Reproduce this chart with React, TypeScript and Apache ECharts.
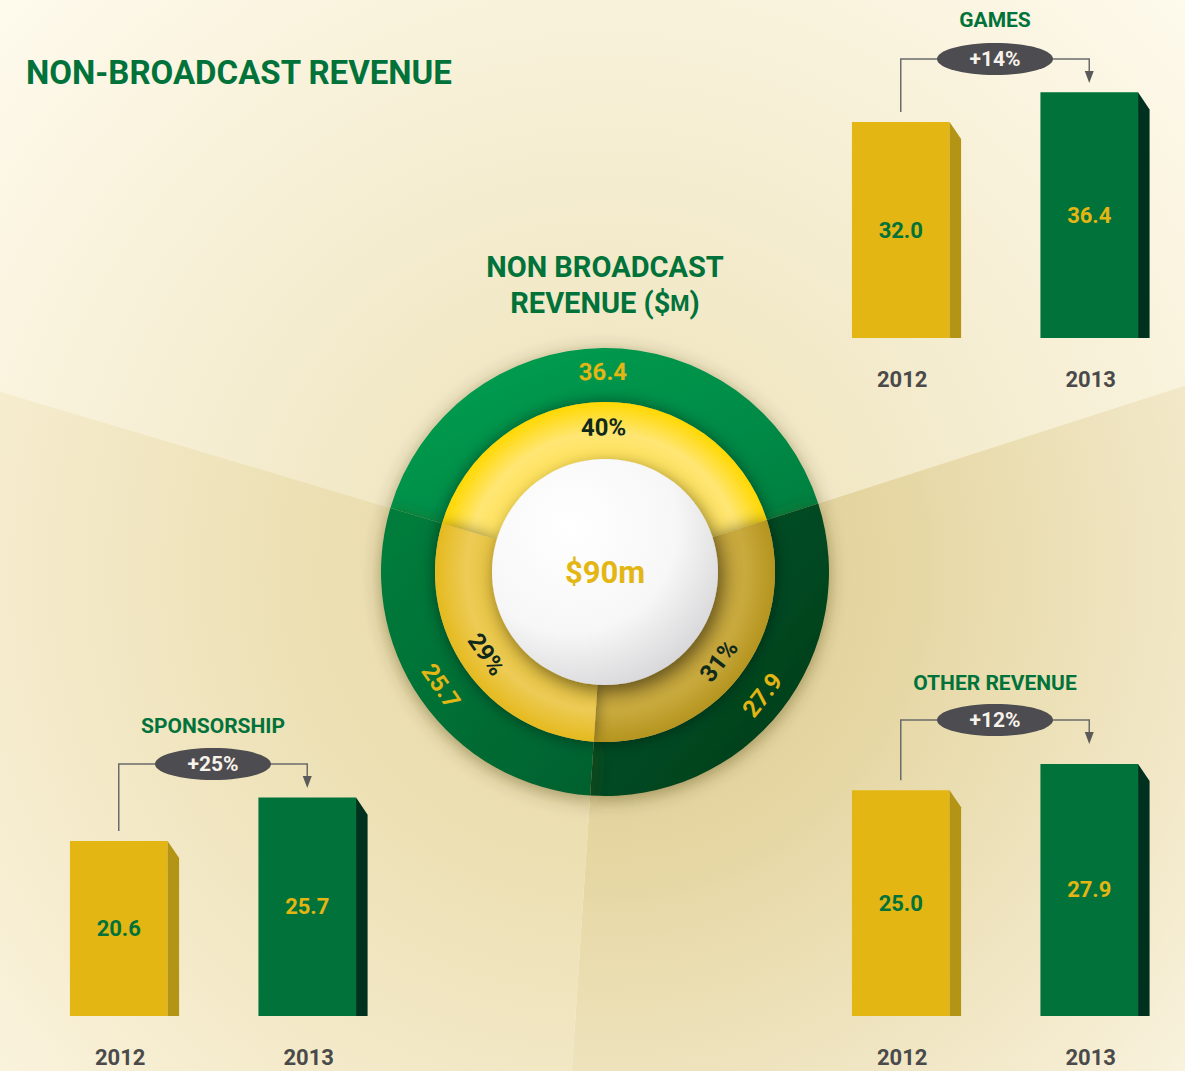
import React, { useEffect, useRef } from 'react';
import * as echarts from 'echarts';

// ---------------- DATA ----------------
const years = ['2012', '2013'];
const gamesValues = [32.0, 36.4];
const sponsorshipValues = [20.6, 25.7];
const otherValues = [25.0, 27.9];
const panelTitles = ['GAMES', 'SPONSORSHIP', 'OTHER REVENUE'];
const segmentNames = ['Games', 'Other revenue', 'Sponsorship'];
const segmentValues = [36.4, 27.9, 25.7];

// ---------------- STYLE ----------------
const FONT = 'Roboto, "Open Sans", sans-serif';
const GREEN = '#00723A';
const YELLOW = '#E3B614';
const CENTER = [605, 572];
const START_ANGLE = 163.4;

const BAR_COLORS = [
  { front: '#E3B614', side: '#B39415', label: '#00723A' },
  { front: '#00723A', side: '#00301E', label: '#E3B614' },
];

const panels = [
  { values: gamesValues, title: panelTitles[0], grid: { left: 808, width: 377, top: 68, height: 270 }, max: 40, titleY: 20, badgeY: 59 },
  { values: sponsorshipValues, title: panelTitles[1], grid: { left: 26, width: 377, top: 761, height: 255 }, max: 30, titleY: 726, badgeY: 764 },
  { values: otherValues, title: panelTitles[2], grid: { left: 808, width: 377, top: 745, height: 271 }, max: 30, titleY: 683, badgeY: 720 },
];

const bgGrad = (c0: string, c1: string, c2: string) => ({
  type: 'radial', x: CENTER[0], y: CENTER[1], r: 820, global: true,
  colorStops: [{ offset: 0, color: c0 }, { offset: 0.35, color: c1 }, { offset: 1, color: c2 }],
});
const bgColors = [
  bgGrad('#EDE2BA', '#F2E9C8', '#FEFAEC'),
  bgGrad('#DFCE94', '#E5D6A2', '#FBF5E3'),
  bgGrad('#E8DAAA', '#ECDFB2', '#FBF4DF'),
];
const lin = (a: string, b: string) => ({
  type: 'linear', x: 0, y: 0, x2: 1, y2: 1,
  colorStops: [{ offset: 0, color: a }, { offset: 1, color: b }],
});
const outerColors = [lin('#00A152', '#007E3F'), lin('#00592A', '#003A19'), lin('#007E3C', '#00602E')];
const innerGrad = (a: string, b: string, c: string) => ({
  type: 'radial', x: CENTER[0], y: CENTER[1], r: 170, global: true,
  colorStops: [{ offset: 0, color: a }, { offset: 0.66, color: a }, { offset: 0.82, color: b }, { offset: 1, color: c }],
});
const innerColors = [
  innerGrad('#FFE25A', '#FFE674', '#FFD800'),
  innerGrad('#C2A23A', '#C9AA3E', '#B5951F'),
  innerGrad('#E8C440', '#EDCB55', '#E5BA1F'),
];

const renderBar = (params: any, api: any) => {
  const i = params.dataIndex;
  const v = api.value(1);
  const top = api.coord([api.value(0), v]);
  const base = api.coord([api.value(0), 0]);
  const band = api.size([1, 0])[0];
  const w = band * 0.518;
  const sw = w * 0.118;
  const sl = w * 0.175;
  const x0 = top[0] - w / 2 - 1.5;
  const c = BAR_COLORS[i];
  return {
    type: 'group',
    children: [
      { type: 'rect', shape: { x: x0, y: top[1], width: w, height: base[1] - top[1] }, style: { fill: c.front } },
      {
        type: 'polygon',
        shape: { points: [[x0 + w, top[1]], [x0 + w + sw, top[1] + sl], [x0 + w + sw, base[1]], [x0 + w, base[1]]] },
        style: { fill: c.side },
      },
      {
        type: 'text', x: x0 + w / 2, y: (top[1] + base[1]) / 2,
        style: { text: v.toFixed(1), fill: c.label, fontSize: 22, fontWeight: 'bold', fontFamily: FONT, align: 'center', verticalAlign: 'middle' },
      },
    ],
  };
};

export default function App() {
  const ref = useRef<HTMLDivElement>(null);
  useEffect(() => {
    const chart = echarts.init(ref.current!, null, { renderer: 'svg' });
    const total = segmentValues.reduce((a, b) => a + b, 0);
    const pieData = (colors: any[]) =>
      segmentValues.map((v, k) => ({ name: segmentNames[k], value: v, itemStyle: { color: colors[k] } }));

    const option: any = {
      animation: false,
      backgroundColor: '#FBF4DE',
      grid: panels.map((p) => ({ ...p.grid, containLabel: false })),
      xAxis: panels.map((p, gi) => ({
        type: 'category', gridIndex: gi, data: years,
        axisLine: { lineStyle: { color: '#7B7B7B', width: 1.5 } },
        axisTick: { show: false },
        axisLabel: { color: '#4A4A4A', fontWeight: 'bold', fontSize: 22, fontFamily: FONT, margin: 30 },
      })),
      yAxis: panels.map((p, gi) => ({
        type: 'value', gridIndex: gi, min: 0, max: p.max, show: false, splitLine: { show: false },
      })),
      series: [
        {
          type: 'pie', z: 0, silent: true, center: CENTER, radius: [0, 1200], startAngle: START_ANGLE,
          label: { show: false }, labelLine: { show: false }, emphasis: { disabled: true },
          data: pieData(bgColors),
        },
        {
          type: 'pie', z: 2, silent: true, center: CENTER, radius: [170, 224], startAngle: START_ANGLE,
          avoidLabelOverlap: false, labelLine: { show: false }, emphasis: { disabled: true },
          itemStyle: { shadowBlur: 18, shadowOffsetY: 4, shadowColor: 'rgba(70,55,0,0.45)' },
          label: {
            show: true, position: 'inside', rotate: 'tangential',
            formatter: (p: any) => Number(p.value).toFixed(1),
            color: YELLOW, fontSize: 24, fontWeight: 'bold', fontFamily: FONT,
          },
          data: pieData(outerColors),
        },
        {
          type: 'pie', z: 3, silent: true, center: CENTER, radius: [113, 170], startAngle: START_ANGLE,
          avoidLabelOverlap: false, labelLine: { show: false }, emphasis: { disabled: true },
          itemStyle: { shadowBlur: 16, shadowColor: 'rgba(0,0,0,0.45)' },
          label: {
            show: true, position: 'inside', rotate: 'tangential',
            formatter: (p: any) => Math.round(p.percent) + '%',
            color: '#10291A', fontSize: 24, fontWeight: 'bold', fontFamily: FONT,
          },
          data: pieData(innerColors),
        },
        {
          type: 'pie', z: 4, silent: true, center: CENTER, radius: [0, 113],
          labelLine: { show: false }, emphasis: { disabled: true },
          itemStyle: {
            color: {
              type: 'radial', x: 0.35, y: 0.3, r: 0.85,
              colorStops: [{ offset: 0, color: '#FFFFFF' }, { offset: 0.55, color: '#F7F7F7' }, { offset: 1, color: '#CDCDD0' }],
            },
            shadowBlur: 18, shadowOffsetX: 4, shadowOffsetY: 6, shadowColor: 'rgba(0,0,0,0.5)',
          },
          label: {
            show: true, position: 'center', formatter: '$' + Math.round(total) + 'm',
            color: YELLOW, fontSize: 31, fontWeight: 'bold', fontFamily: FONT,
          },
          data: [{ name: 'Total', value: total }],
        },
        ...panels.map((p, gi) => ({
          type: 'custom', xAxisIndex: gi, yAxisIndex: gi, z: 5, silent: true,
          renderItem: renderBar, encode: { x: 0, y: 1 },
          data: p.values.map((v, k) => [k, v]),
        })),
      ],
    };
    chart.setOption(option);

    const txt = (x: number, y: number, text: string, fill: string, size: number, align = 'center') => ({
      type: 'text', x, y, z: 100,
      style: { text, fill, fontSize: size, fontWeight: 'bold', fontFamily: FONT, align, verticalAlign: 'middle' },
    });
    const graphics: any[] = [
      txt(26, 72, 'NON-BROADCAST REVENUE', GREEN, 33, 'left'),
      txt(CENTER[0], 267, 'NON BROADCAST', GREEN, 29),
      {
        type: 'text', x: CENTER[0], y: 303, z: 100,
        style: {
          text: '{a|REVENUE ($}{b|M}{a|)}', align: 'center', verticalAlign: 'middle',
          rich: {
            a: { fill: GREEN, fontSize: 29, fontWeight: 'bold', fontFamily: FONT },
            b: { fill: GREEN, fontSize: 22, fontWeight: 'bold', fontFamily: FONT },
          },
        },
      },
    ];
    panels.forEach((p, gi) => {
      const pL = chart.convertToPixel({ gridIndex: gi } as any, [years[0], p.values[0]]) as number[];
      const pR = chart.convertToPixel({ gridIndex: gi } as any, [years[1], p.values[1]]) as number[];
      const xL = pL[0] - 1.5;
      const xR = pR[0] - 1.5;
      const bx = (xL + xR) / 2;
      const by = p.badgeY;
      const pct = Math.round((p.values[1] / p.values[0] - 1) * 100);
      const lineStyle = { stroke: '#6B6B6B', lineWidth: 1.5 };
      graphics.push(
        txt(bx, p.titleY, p.title, GREEN, 21),
        { type: 'polyline', z: 99, shape: { points: [[xL, pL[1] - 10], [xL, by], [bx - 50, by]] }, style: lineStyle },
        { type: 'polyline', z: 99, shape: { points: [[bx + 50, by], [xR, by], [xR, by + 15]] }, style: lineStyle },
        { type: 'polygon', z: 99, shape: { points: [[xR - 4.5, by + 12], [xR + 4.5, by + 12], [xR, by + 24]] }, style: { fill: '#5A5A5A' } },
        { type: 'ellipse', z: 100, shape: { cx: bx, cy: by, rx: 58, ry: 16 }, style: { fill: '#4D4C50' } },
        txt(bx, by, `+${pct}%`, '#F7F3EA', 21),
      );
    });
    chart.setOption({ graphic: graphics });

    return () => chart.dispose();
  }, []);
  return <div ref={ref} style={{ position: 'fixed', left: 0, top: 0, width: 1185, height: 1071 }} />;
}
